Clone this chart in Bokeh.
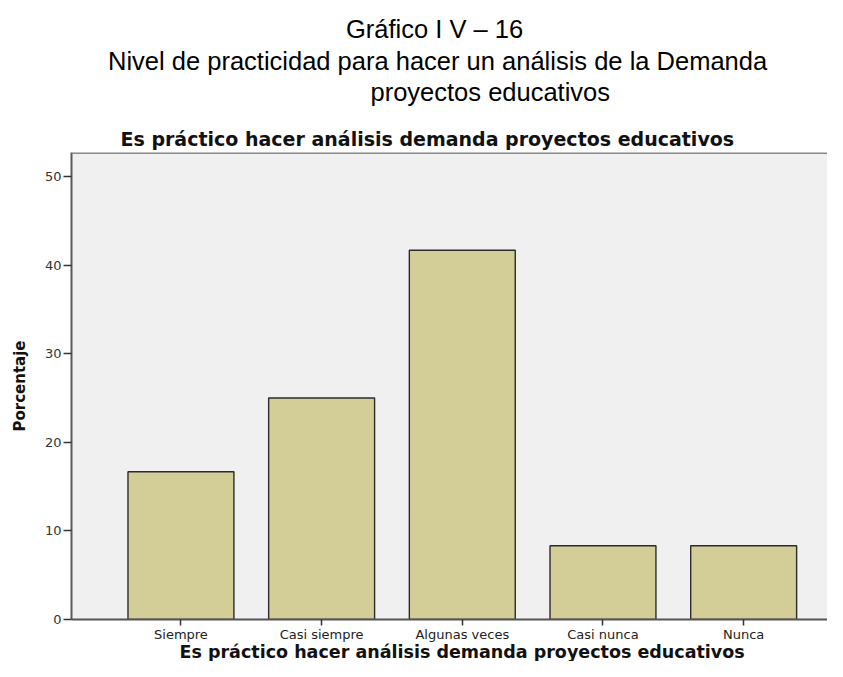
from bokeh.plotting import figure
from bokeh.models import Span, FixedTicker, Range1d, Title
from bokeh.embed import file_html
from bokeh.resources import INLINE

# ---- data ----
categories = ["Siempre", "Casi siempre", "Algunas veces", "Casi nunca", "Nunca"]
percentages = [16.67, 25.0, 41.67, 8.33, 8.33]
y_ticks = [0, 10, 20, 30, 40, 50]
header_lines = ["Gráfico I V – 16",
                "Nivel de practicidad para hacer un análisis de la Demanda",
                "proyectos educativos"]
chart_title = "Es práctico hacer análisis demanda proyectos educativos"
x_title = "Es práctico hacer análisis demanda proyectos educativos"
y_title = "Porcentaje"

xs = list(range(len(categories)))
Y_MAX = 52.7

p = figure(width=827, height=661, output_backend="svg", toolbar_location=None,
           x_range=Range1d(-0.778, 4.596), y_range=Range1d(0, Y_MAX),
           min_border_left=71, min_border_right=0, min_border_top=152,
           min_border_bottom=42)

p.background_fill_color = "#F0F0F0"
p.border_fill_color = "white"
p.outline_line_color = None
p.grid.visible = False
p.title.text = ""

# titles above, added from the frame outward
p.add_layout(Title(text=chart_title, align="left", offset=49, standoff=5,
                   text_font="DejaVu Sans", text_font_style="bold",
                   text_font_size="19px", text_color="#111111"), "above")
# spacer between the chart title and the caption
p.add_layout(Title(text=" ", standoff=5.5, text_font_size="10px"), "above")

caption_offsets = [274.5, 36.5, 299]
caption_standoffs = [-0.5, 3.5, -2.5]
for i in [2, 1, 0]:
    p.add_layout(Title(text=header_lines[i], align="left",
                       offset=caption_offsets[i], standoff=caption_standoffs[i],
                       text_font="Liberation Sans",
                       text_font_style="normal", text_font_size="25.5px",
                       text_color="black"), "above")

p.vbar(x=xs, top=percentages, bottom=0, width=0.753,
       fill_color="#D3CE98", line_color="#2b2b2b", line_width=1.4)

p.add_layout(Span(location=Y_MAX, dimension="width", line_color="#8a8a8a", line_width=3))

# y axis
ya = p.yaxis[0]
ya.ticker = FixedTicker(ticks=y_ticks)
ya.major_tick_out = 8
ya.major_tick_in = 0
ya.minor_tick_out = 0
ya.minor_tick_in = 0
ya.axis_line_width = 2
ya.axis_line_color = "#5a5a5a"
ya.major_tick_line_color = "#333333"
ya.major_tick_line_width = 1.5
ya.major_label_standoff = 2
ya.major_label_text_font = "DejaVu Sans"
ya.major_label_text_font_size = "13px"
ya.major_label_text_color = "#333333"
ya.axis_label = y_title
ya.axis_label_text_font = "DejaVu Sans"
ya.axis_label_text_font_style = "bold"
ya.axis_label_text_font_size = "15px"
ya.axis_label_text_color = "#111111"
ya.axis_label_standoff = 13

# x axis
xa = p.xaxis[0]
xa.ticker = FixedTicker(ticks=xs)
xa.major_label_overrides = {i: c for i, c in enumerate(categories)}
xa.major_tick_out = 6
xa.major_tick_in = 0
xa.minor_tick_out = 0
xa.minor_tick_in = 0
xa.axis_line_width = 2
xa.axis_line_color = "#555555"
xa.major_tick_line_color = "#333333"
xa.major_tick_line_width = 1.5
xa.major_label_standoff = 1
xa.major_label_text_font = "DejaVu Sans"
xa.major_label_text_font_size = "13px"
xa.major_label_text_color = "#222222"

# bottom axis title
p.add_layout(Title(text=x_title, align="left", offset=108, standoff=-9,
                   text_font="DejaVu Sans", text_font_style="bold",
                   text_font_size="17.5px", text_color="#111111"), "below")

open("out.html", "w").write(file_html(p, INLINE))
